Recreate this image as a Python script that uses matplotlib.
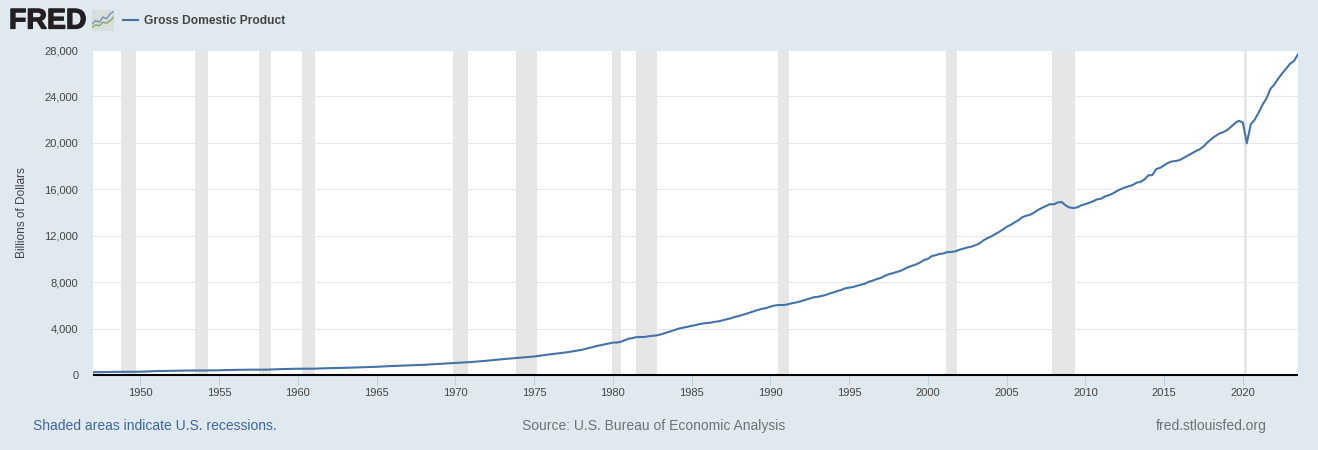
import matplotlib
matplotlib.use('Agg')
import matplotlib.pyplot as plt
import matplotlib.patheffects as pe

plt.rcParams['font.family'] = ['Liberation Sans', 'DejaVu Sans']

# Q1 values 1947-1979, one per year
gdp_yearly = [243, 262, 275, 281, 336, 360, 387, 386, 406, 440, 461, 461, 511, 540, 545, 590,
              618, 664, 709, 775, 825, 880, 960, 1040, 1116, 1230, 1362, 1480, 1593, 1777,
              1940, 2160, 2500]

# quarterly values from 1980 on
gdp_quarterly = [2790, 2797, 2857, 2986,
                 3125, 3180, 3260, 3274,
                 3274, 3332, 3367, 3407,
                 3480, 3584, 3692, 3796,
                 3912, 4016, 4091, 4148,
                 4238, 4298, 4384, 4441,
                 4486, 4517, 4585, 4632,
                 4722, 4806, 4885, 5008,
                 5073, 5190, 5282, 5399,
                 5512, 5618, 5712, 5764,
                 5890, 5974, 6029, 6024,
                 6055, 6143, 6218, 6279,
                 6381, 6492, 6587, 6698,
                 6729, 6809, 6888, 7014,
                 7115, 7232, 7327, 7466,
                 7522, 7581, 7684, 7772,
                 7868, 8033, 8132, 8260,
                 8362, 8530, 8668, 8765,
                 8866, 8970, 9122, 9293,
                 9411, 9526, 9686, 9900,
                 10002, 10247, 10319, 10439,
                 10472, 10597, 10597, 10660,
                 10784, 10887, 10985, 11050,
                 11174, 11312, 11567, 11770,
                 11923, 12112, 12305, 12527,
                 12767, 12922, 13143, 13325,
                 13600, 13721, 13807, 13996,
                 14216, 14402, 14564, 14716,
                 14706, 14865, 14899, 14608,
                 14430, 14382, 14450, 14629,
                 14721, 14839, 14970, 15141,
                 15190, 15393, 15493, 15647,
                 15843, 16020, 16152, 16257,
                 16358, 16570, 16637, 16849,
                 17200, 17220, 17750, 17850,
                 18063, 18279, 18401, 18435,
                 18525, 18711, 18892, 19089,
                 19280, 19438, 19692, 20037,
                 20328, 20580, 20798, 20917,
                 21104, 21384, 21694, 21902,
                 21751, 19958, 21600, 22000,
                 22600, 23292, 23829, 24654,
                 25029, 25544, 25994, 26408,
                 26814, 27063, 27623]

recessions = [(1948.79, 1949.72), (1953.47, 1954.3), (1957.57, 1958.27), (1960.25, 1961.1),
              (1969.88, 1970.8), (1973.83, 1975.17), (1979.98, 1980.5), (1981.47, 1982.82),
              (1990.48, 1991.17), (2001.17, 2001.84), (2007.9, 2009.37), (2020.09, 2020.26)]

x_ticks = list(range(1950, 2025, 5))
y_ticks = list(range(0, 28001, 4000))

# the little chart in the logo
icon_x = [0, 1, 2, 3, 4, 5, 6]
icon_blue = [4, 6, 5, 8, 7, 10, 11]
icon_green = [2, 3.5, 3, 5, 4.5, 6, 8]

bg = '#e1e9f0'
blue = '#4572a7'
gray = '#e6e6e6'

years = list(range(1947, 1980))
quarters = [1980 + i / 4 for i in range(len(gdp_quarterly))]
x = years + quarters
y = gdp_yearly + gdp_quarterly

W, H = 1318, 450
fig = plt.figure(figsize=(W / 100, H / 100), dpi=100, facecolor=bg)
ax = fig.add_axes([93 / W, 1 - 375 / H, 1205 / W, 325 / H], facecolor='white')

ax.set_axisbelow(True)
ax.yaxis.grid(True, color=gray, linewidth=0.75)
for start, end in recessions:
    ax.axvspan(start, end, color=gray, linewidth=0, zorder=1.5)
ax.plot(x, y, color=blue, linewidth=1.5, zorder=3, solid_joinstyle='round')

ax.set_xlim(1947, 2023.5)
ax.set_ylim(0, 28000)
ax.set_xticks(x_ticks)
ax.set_yticks(y_ticks)
ax.set_yticklabels([f'{v:,}' for v in y_ticks])
ax.tick_params(axis='x', length=7.5, width=0.75, color='#c0d0e0', labelcolor='#444444', labelsize=8, pad=2)
ax.tick_params(axis='y', length=0, labelcolor='#444444', labelsize=8, pad=10.5)
for side in ['top', 'right', 'left']:
    ax.spines[side].set_visible(False)
ax.spines['bottom'].set_color('black')
ax.spines['bottom'].set_linewidth(1.5)
ax.spines['bottom'].set_capstyle('butt')
ax.spines['bottom'].set_zorder(4)
ax.set_ylabel('Billions of Dollars', fontsize=8.6, color='#444444')
ax.yaxis.set_label_coords((28 - 93) / 1205, 0.5)

# logo
fig.text(9 / W, 1 - 21.5 / H, 'FRED', fontsize=20.5, fontweight='bold', color='#231f20', va='center',
         path_effects=[pe.withStroke(linewidth=0.9, foreground='#231f20')])
icon = fig.add_axes([92 / W, 1 - 31 / H, 22 / W, 21 / H], facecolor='#d9dedd')
icon.plot(icon_x, icon_blue, color='#6f93b5', linewidth=1)
icon.plot(icon_x, icon_green, color='#86a85f', linewidth=1)
icon.set_xlim(0, 6)
icon.set_ylim(0, 12)
icon.set_xticks([])
icon.set_yticks([])
for side in icon.spines:
    icon.spines[side].set_visible(False)

# legend
fig.add_artist(plt.Line2D([123 / W, 138 / W], [1 - 19.5 / H] * 2, color=blue, linewidth=1.5))
fig.text(144 / W, 1 - 24 / H, 'Gross Domestic Product', fontsize=8.65, fontweight='bold',
         color='#444444', va='baseline')

# footer
fig.text(33 / W, 1 - 430 / H, 'Shaded areas indicate U.S. recessions.', fontsize=10, color='#3b66a0', va='baseline')
fig.text(522 / W, 1 - 430 / H, 'Source: U.S. Bureau of Economic Analysis', fontsize=10, color='#6e7278', va='baseline')
fig.text(1267 / W, 1 - 430 / H, 'fred.stlouisfed.org', fontsize=10, color='#6e7278', va='baseline', ha='right')

fig.savefig('out.png', dpi=100, facecolor=bg)
